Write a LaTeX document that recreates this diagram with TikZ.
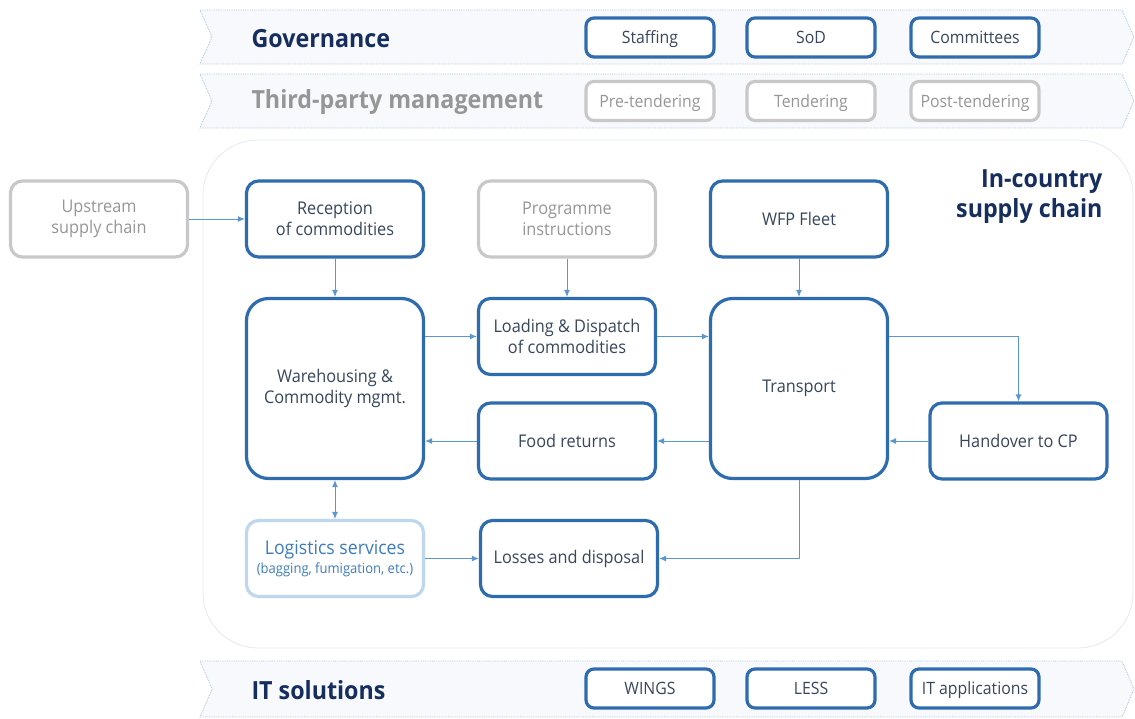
\documentclass[tikz,border=0pt]{standalone}
\usepackage{fontspec}
\setmainfont{Open Sans}[FakeStretch=0.93]
\usetikzlibrary{arrows.meta}
\definecolor{wfpblue}{RGB}{46,108,175}
\definecolor{wfpnavy}{RGB}{22,45,95}
\definecolor{wfptext}{RGB}{55,70,92}
\definecolor{wfpgray}{RGB}{200,200,200}
\definecolor{wfpgraytxt}{RGB}{150,150,150}
\definecolor{wfplight}{RGB}{190,215,238}
\definecolor{wfplighttxt}{RGB}{60,125,190}
\definecolor{wfparrow}{RGB}{90,150,210}
\definecolor{wfpband}{RGB}{247,249,252}
\definecolor{wfpdots}{RGB}{165,195,225}
\definecolor{wfpframe}{RGB}{230,233,238}

\begin{document}
\begin{tikzpicture}[x=1pt, y=-1pt, >={Latex[length=7pt,width=6pt]},
  box/.style={draw=wfpblue, line width=3.2pt, rounded corners=12pt, fill=white, text=wfptext,
    align=center, font=\fontsize{17.5}{21}\selectfont, minimum width=177pt, minimum height=76pt, inner sep=0pt},
  bigbox/.style={box, rounded corners=22pt, minimum height=180pt},
  graybox/.style={box, draw=wfpgray, text=wfpgraytxt},
  small/.style={box, minimum width=128pt, minimum height=39pt, rounded corners=8pt,
    font=\fontsize{17}{20}\selectfont, text height=12pt, text depth=0pt},
  smallgray/.style={small, draw=wfpgray, text=wfpgraytxt},
  band/.style={draw=wfpdots, densely dotted, fill=wfpband, line width=0.8pt},
  bandlabel/.style={anchor=west, font=\fontsize{25}{30}\selectfont\bfseries, text=wfpnavy},
  flow/.style={->, draw=wfparrow, line width=1pt}]
  \useasboundingbox (0,0) rectangle (1135,718);

  % bands
  \draw[band] (200,10) -- (1122,10) -- (1134,37) -- (1122,64) -- (200,64) -- (212,37) -- cycle;
  \draw[band] (200,74) -- (1122,74) -- (1134,101) -- (1122,128) -- (200,128) -- (212,101) -- cycle;
  \draw[band] (200,661) -- (1122,661) -- (1134,689) -- (1122,717) -- (200,717) -- (212,689) -- cycle;
  \node[bandlabel] (gov) at (248,39) {Governance};
  \node[bandlabel, text=wfpgraytxt] (tpm) at (248,102) {Third-party management};
  \node[bandlabel] (its) at (248,690) {IT solutions};

  \node[small] (staff) at (650,37.5) {Staffing};
  \node[small] (sod) at (811,37.5) {SoD};
  \node[small] (comm) at (975,37.5) {Committees};
  \node[smallgray] (pre) at (650,101) {Pre-tendering};
  \node[smallgray] (tend) at (811,101) {Tendering};
  \node[smallgray] (post) at (975,101) {Post-tendering};
  \node[small] (wings) at (650,688.5) {WINGS};
  \node[small] (less) at (811,688.5) {LESS};
  \node[small] (itapp) at (975,688.5) {IT applications};

  % in-country frame
  \draw[draw=wfpframe, fill=white!97!wfpband, rounded corners=55pt, line width=0.8pt]
    (203,140) rectangle (1133,648);
  \node[anchor=north east, align=right, font=\fontsize{25}{30}\selectfont\bfseries, text=wfpnavy]
    (title) at (1106,166) {In-country\\supply chain};

  \node[graybox] (up) at (99,219) {Upstream\\supply chain};
  \node[box] (recep) at (335,219) {Reception\\of commodities};
  \node[graybox] (prog) at (567,219) {Programme\\instructions};
  \node[box] (fleet) at (799,219) {WFP Fleet};
  \node[bigbox] (wareh) at (335,388.5) {Warehousing \&\\Commodity mgmt.};
  \node[box] (load) at (567,336.5) {Loading \& Dispatch\\of commodities};
  \node[bigbox] (trans) at (799,388.5) {Transport};
  \node[box] (food) at (567,441) {Food returns};
  \node[box] (hand) at (1018.5,441) {Handover to CP};
  \node[box, draw=wfplight, text=wfplighttxt] (logis) at (335,558.5)
    {{\fontsize{19}{21}\selectfont Logistics services}\\[-2pt]{\fontsize{14}{16}\selectfont(bagging, fumigation, etc.)}};
  \node[box] (loss) at (569,558.5) {Losses and disposal};

  \draw[flow] (up) -- (recep);
  \draw[flow] (recep) -- (wareh);
  \draw[flow] (prog) -- (load);
  \draw[flow] (fleet) -- (trans);
  \draw[flow] (wareh.east |- load.west) -- (load.west);
  \draw[flow] (load.east) -- (trans.west |- load.east);
  \draw[flow] (trans.east |- load.east) -| (hand.north);
  \draw[flow] (hand.west) -- (trans.east |- hand.west);
  \draw[flow] (trans.west |- food.east) -- (food.east);
  \draw[flow] (food.west) -- (wareh.east |- food.west);
  \draw[flow, <->] (wareh.south) -- (logis.north);
  \draw[flow] (logis.east) -- (loss.west);
  \draw[flow] (trans.south) |- (loss.east);
\end{tikzpicture}
\end{document}
